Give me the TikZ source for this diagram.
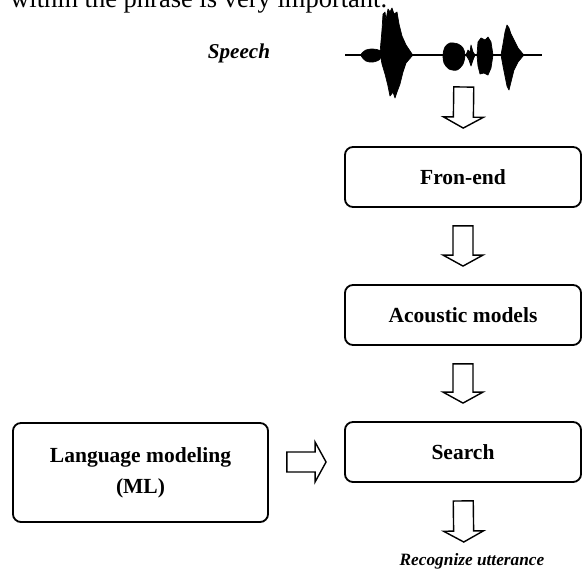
\documentclass[tikz,border=0pt]{standalone}
\usepackage{fontspec}
\setmainfont{Liberation Serif}
\usetikzlibrary{calc}

\tikzset{
  box/.style={draw, line width=1.3pt, rounded corners=0.2cm, minimum width=5.9cm, minimum height=1.5cm,
    inner sep=2pt, font=\bfseries\fontsize{15.3}{22}\selectfont},
  hollow/.style={draw, line width=1pt, line join=miter, to path={
    ($(\tikztostart)!0.45cm!(\tikztotarget)$) coordinate (bs)
    ($(\tikztotarget)!0.45cm!(\tikztostart)$) coordinate (bt)
    ($(bt)!0.275cm!(bs)$) coordinate (bh)
    ($(bs)!0.25cm!90:(bt)$) -- ($(bh)!0.25cm!90:(bt)$) -- ($(bh)!0.5cm!90:(bt)$) -- (bt)
    -- ($(bh)!0.5cm!-90:(bt)$) -- ($(bh)!0.25cm!-90:(bt)$) -- ($(bs)!0.25cm!-90:(bt)$) -- cycle}},
  burst/.style={fill=black, draw=black, line width=0.5pt, line join=round}
}

\begin{document}
\begin{tikzpicture}[x=0.025cm, y=-0.025cm]
\useasboundingbox (0,0) rectangle (587,574);

% last line of the text above
\node[anchor=base west, inner sep=0pt, font=\fontsize{18.85}{22}\selectfont] (txt) at (10,7) {within the phrase is very important.};

\node[anchor=base, font=\bfseries\itshape\fontsize{15}{18}\selectfont] (sp) at (239,58) {Speech};

% speech signal
\draw[line width=1.4pt] (345,55) -- (542,55);
\fill[burst] plot[smooth cycle, tension=0.5] coordinates {(361,55) (366,50) (373,49) (380,51) (380,59) (373,62) (366,61)};
\fill[burst] (380,53) -- (382,30) -- (383,14) -- (385,12) -- (386,20) -- (388,9) -- (390,12) -- (392,8) -- (394,14)
  -- (397,12) -- (399,24) -- (402,36) -- (406,45) -- (412,54) -- (412,56) -- (406,63) -- (403,72) -- (400,84)
  -- (397,92) -- (395,98) -- (393,92) -- (390,96) -- (388,86) -- (385,74) -- (382,64) -- cycle;
\fill[burst] plot[smooth cycle, tension=0.5] coordinates {(443,55) (445,47) (450,43) (458,44) (463,48) (465,55) (463,64) (457,70) (449,69) (444,63)};
\fill[burst] (466,55) -- (468,50) -- (470,52) -- (471,45) -- (473,52) -- (475,55) -- (473,60) -- (471,66) -- (469,60) -- cycle;
\fill[burst] (477,55) -- (478,42) -- (481,38) -- (485,40) -- (488,37) -- (491,42) -- (493,55) -- (491,68) -- (488,75)
  -- (484,73) -- (480,74) -- (478,66) -- cycle;
\fill[burst] (501,55) -- (503,44) -- (505,32) -- (507,25) -- (509,28) -- (511,34) -- (514,40) -- (518,48) -- (523,54)
  -- (523,56) -- (518,62) -- (514,70) -- (511,82) -- (509,90) -- (507,86) -- (505,76) -- (503,66) -- cycle;
\coordinate (sig) at (464,69);

\node[box] (fe) at (463,177) {Fron-end};
\node[box] (am) at (463,315) {Acoustic models};
\node[box] (se) at (463,452) {Search};
\node[box, minimum width=6.375cm, minimum height=2.475cm, align=center] (lm) at (140.5,472.5) {Language modeling\\(ML)};

\coordinate (out) at (464,560);
\node[anchor=base, inner sep=0pt, font=\bfseries\itshape\fontsize{12.3}{15}\selectfont] (ru) at (472,565) {Recognize utterance};

\draw[hollow] (sig) to (fe.north);
\draw[hollow] (fe.south) to (am.north);
\draw[hollow] (am.south) to (se.north);
\draw[hollow] (se.south) to (out);
\draw[hollow] (lm.east |- 0,462) to (se.west |- 0,462);
\end{tikzpicture}
\end{document}
